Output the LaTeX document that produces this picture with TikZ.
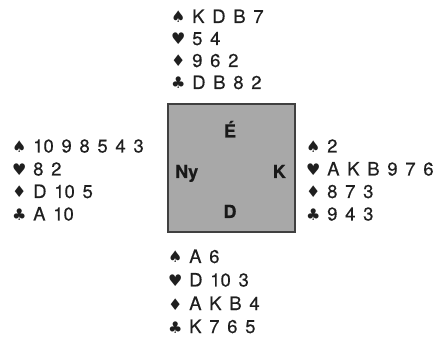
\documentclass[tikz,border=0pt]{standalone}
\usepackage{fontspec}
\setmainfont{TeX Gyre Heros}[WordSpace=1.5,FakeBold=0.4]
\newfontfamily\suitfont{DejaVu Sans}
\usetikzlibrary{positioning}
\tikzset{
  hand-line/.style={anchor=base west,inner sep=0pt,font=\fontsize{18.5}{22}\selectfont,text=black!88},
  seat-label/.style={inner sep=0pt,font=\fontsize{18}{20}\selectfont\bfseries,text=black!90},
  table-box/.style={draw=black!75,fill=black!34,line width=1.4pt},
}
\newcommand{\st}[1]{\makebox[21pt][l]{\suitfont\fontsize{16}{18}\selectfont #1}}

\begin{document}
\begin{tikzpicture}[x=1pt,y=-1pt]
  \useasboundingbox (0,0) rectangle (442,339);

  % TABLE
  \node[table-box,minimum width=127pt,minimum height=128pt,inner sep=0pt] (table) at (231.5,168) {};
  \node[seat-label,anchor=base]      (seat-n) at (230,137.5) {É};
  \node[seat-label,anchor=base west] (seat-w) at (175,178)   {Ny};
  \node[seat-label,anchor=base east] (seat-e) at (286,178)   {K};
  \node[seat-label,anchor=base]      (seat-s) at (230,218)   {D};

  % NORTH
  \node[hand-line] (n-s) at (171,23) {\st{♠}K D B 7};
  \node[hand-line] (n-h) at (171,45) {\st{♥}5 4};
  \node[hand-line] (n-d) at (171,67) {\st{♦}9 6 2};
  \node[hand-line] (n-c) at (171,89) {\st{♣}D B 8 2};

  % WEST
  \node[hand-line] (w-s) at (12,152.5) {\st{♠}10 9 8 5 4 3};
  \node[hand-line] (w-h) at (12,175.5) {\st{♥}8 2};
  \node[hand-line] (w-d) at (12,198)   {\st{♦}D 10 5};
  \node[hand-line] (w-c) at (12,220.5) {\st{♣}A 10};

  % EAST
  \node[hand-line] (e-s) at (306,152.5) {\st{♠}2};
  \node[hand-line] (e-h) at (306,175.5) {\st{♥}A K B 9 7 6};
  \node[hand-line] (e-d) at (306,198)   {\st{♦}8 7 3};
  \node[hand-line] (e-c) at (306,220.5) {\st{♣}9 4 3};

  % SOUTH
  \node[hand-line] (s-s) at (168,263)   {\st{♠}A 6};
  \node[hand-line] (s-h) at (168,286.5) {\st{♥}D 10 3};
  \node[hand-line] (s-d) at (168,310)   {\st{♦}A K B 4};
  \node[hand-line] (s-c) at (168,333)   {\st{♣}K 7 6 5};

\end{tikzpicture}
\end{document}
